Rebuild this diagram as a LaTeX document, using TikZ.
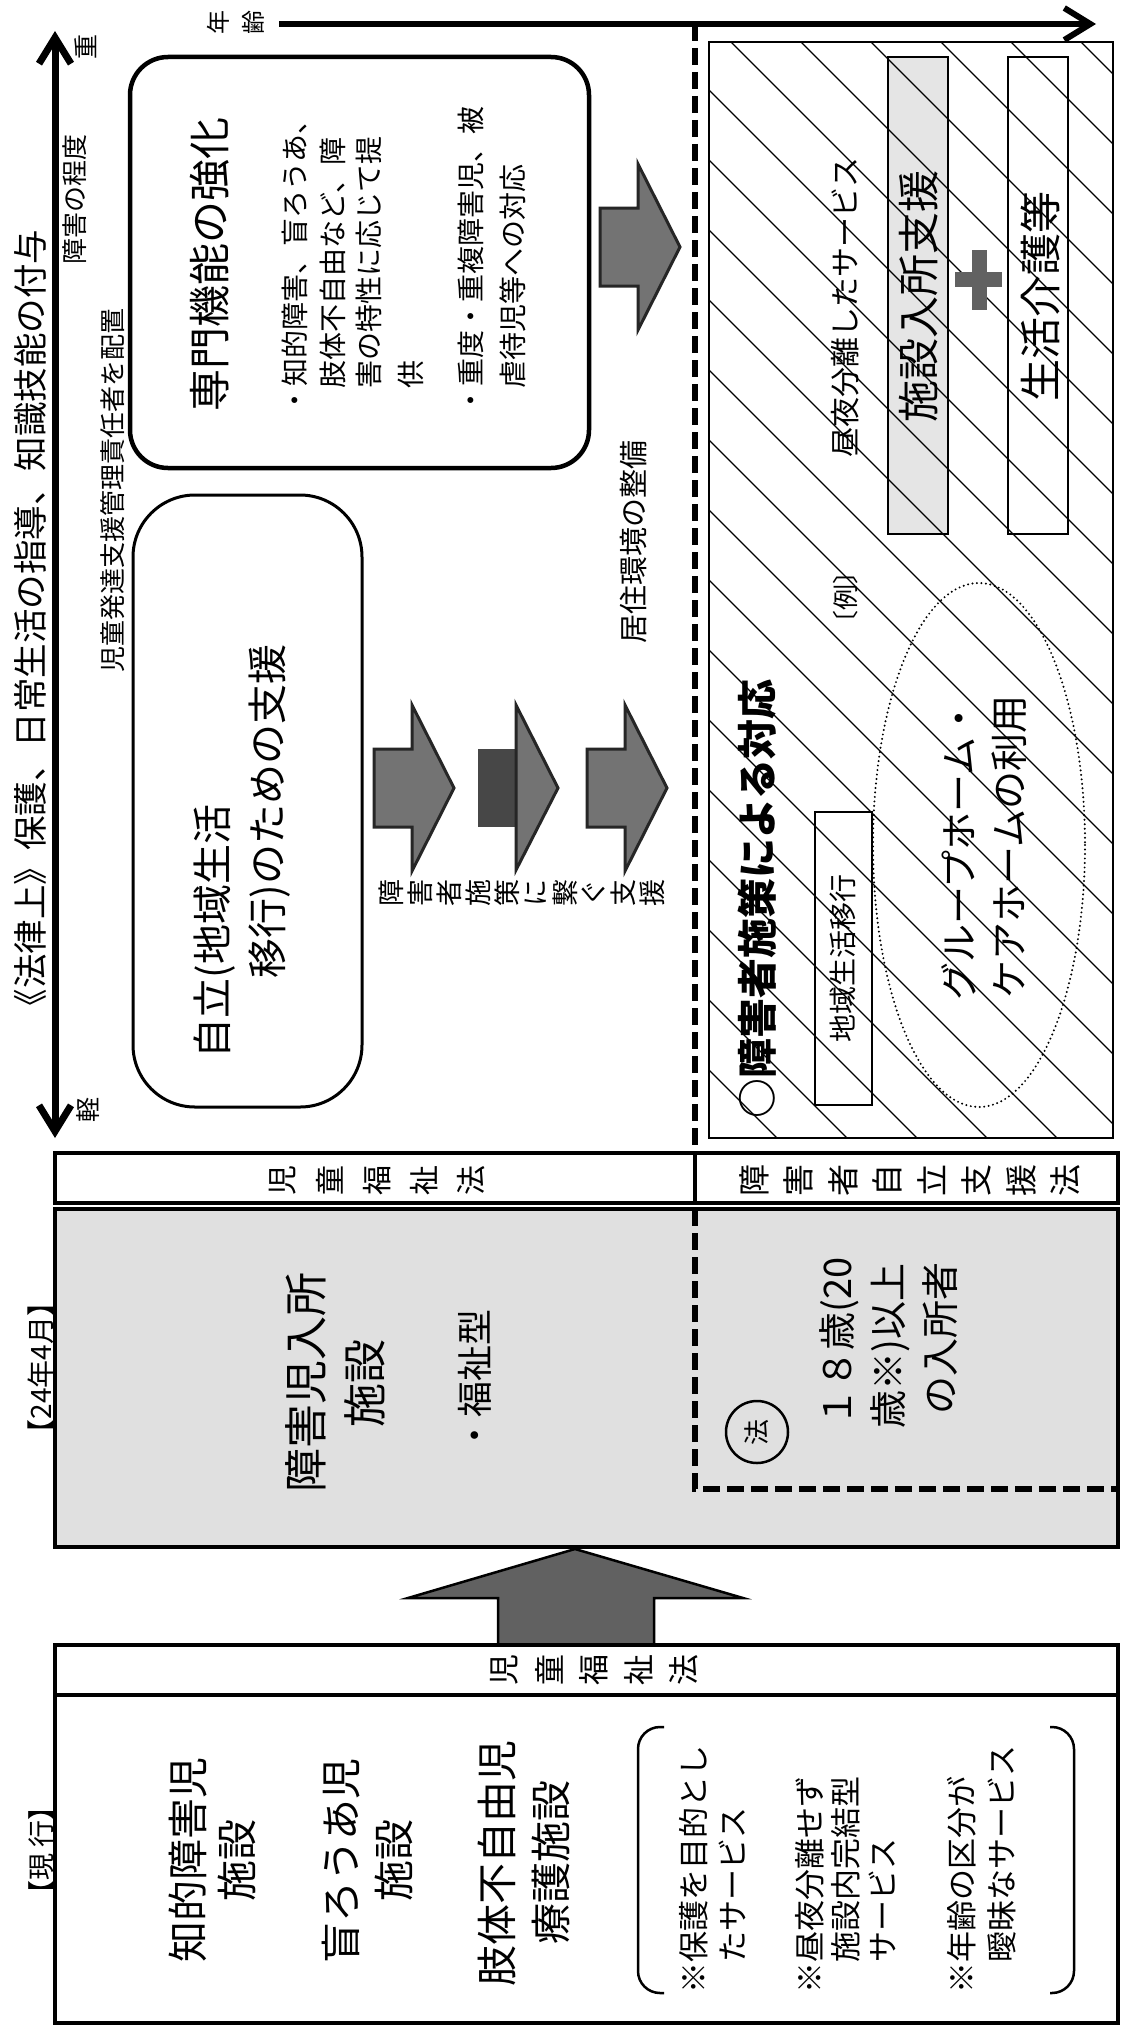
\documentclass[tikz,border=0pt]{standalone}
\usepackage{fontspec}
\setmainfont{Noto Sans CJK JP}
\usetikzlibrary{arrows.meta}
\newcommand{\charrow}[5]{%
  \foreach \chx [count=\ci from 0] in {#5} {%
    \node[vt,font=\fontsize{#4}{#4}\selectfont] at ({#1+\ci*#3},#2) {\chx};}}
\newcommand{\blockarr}[2]{%
  \draw[arrowfill] (#1,#2-39) -- (#1+38,#2-39) -- (#1+38,#2-83) -- (#1+80,#2)
    -- (#1+38,#2+83) -- (#1+38,#2+39) -- (#1,#2+39) -- cycle;}
\begin{document}
\begin{tikzpicture}[x=1pt,y=-1pt,
  vt/.style={rotate=90, inner sep=0pt, outer sep=0pt},
  fs/.style={font=\fontsize{#1}{#1}\selectfont},
  >={Straight Barb[length=26pt,width=32pt]},
  axisline/.style={line width=7pt},
  arrowfill/.style={fill=black!55, draw=black!85, line width=3pt, line join=miter},
  thickdash/.style={line width=6pt, dash pattern=on 17pt off 7pt},
  frame/.style={draw=black, line width=4.5pt},
  thinbox/.style={draw=black, line width=2pt}]
\fill[white] (0,0) rectangle (1128,2028);
\useasboundingbox (0,0) rectangle (1128,2028);

% ---------- axes ----------
\coordinate (dTop) at (55,31);
\coordinate (dBot) at (55,1138);
\draw[axisline,<->] (dBot) -- (dTop);
\coordinate (aL) at (279,24);
\coordinate (aR) at (1096,24);
\draw[line width=6pt,->] (aL) -- (aR);

\node[vt,fs=34.5,anchor=west] (hdr) at (30,1023) {《法律上》保護、日常生活の指導、知識技能の付与};
\node[vt,fs=25] (heavy) at (86,47) {重};
\node[vt,fs=25] (light) at (88,1110) {軽};
\node[vt,fs=26,anchor=west] (deg) at (75,264) {障害の程度};
\charrow{218}{23}{35}{24}{年,齢}
\node[vt,fs=26,anchor=west] (kanri) at (113,672) {児童発達支援管理責任者を配置};

% ---------- senmon box ----------
\draw[line width=4.5pt, rounded corners=38pt] (130,57) rectangle (589,468);
\node[vt,fs=42,anchor=west] (senmon) at (210,411) {専門機能の強化};
\node[vt,fs=28,anchor=west] (b1a) at (295,414) {・知的障害、盲ろうあ、};
\node[vt,fs=28,anchor=west] (b1b) at (333,388) {肢体不自由など、障};
\node[vt,fs=28,anchor=west] (b1c) at (369,388) {害の特性に応じて提};
\node[vt,fs=28,anchor=west] (b1d) at (411,388) {供};
\node[vt,fs=28,anchor=west] (b2a) at (471,414) {・重度・重複障害児、被};
\node[vt,fs=28,anchor=west] (b2b) at (513,388) {虐待児等への対応};

% ---------- jiritsu box ----------
\draw[line width=3pt, rounded corners=62pt] (133,495) rectangle (362,1107);
\node[vt,fs=40,anchor=west] (jr1) at (215,1058) {自立(地域生活};
\node[vt,fs=40,anchor=west] (jr2) at (270,978) {移行)のための支援};

% ---------- block arrows ----------
\blockarr{374}{788}
\fill[black!72] (478,749) rectangle (516,827);
\draw[arrowfill] (516,705) -- (558,788) -- (516,870) -- cycle;
\blockarr{587}{788}
\blockarr{600}{247}
\charrow{391}{893}{29}{27}{障,害,者,施,策,に,繋,ぐ,支,援}
\node[vt,fs=29,anchor=west] (kyoju) at (633,643) {居住環境の整備};

% ---------- hatched box ----------
\fill[black!10] (888,57) rectangle (948,534);
\begin{scope}
  \clip (709,42) rectangle (1113,1138);
  \foreach \j in {-6,...,17} {
    \draw[line width=1.3pt] (689,{20+70*\j-20}) -- (1133,{20+70*\j+424});
  }
\end{scope}
\draw[thinbox] (709,42) rectangle (1113,1138);
\draw[thinbox] (888,57) rectangle (948,534);
\draw[thinbox] (1008,57) rectangle (1068,534);
\node[vt,fs=30] (chuya) at (845,307) {昼夜分離したサービス};
\node[vt,fs=42] (nyusho) at (919,296) {施設入所支援};
\node[vt,fs=42] (seikatsu) at (1040,296) {生活介護等};
\fill[black!62] (972,250) rectangle (987,310);
\fill[black!62] (955,272) rectangle (1002,287);
\node[vt,anchor=west,font=\fontsize{40}{40}\selectfont\bfseries] (taiou) at (757,1118) {○障害者施策による対応};
\draw[thinbox] (815,812) rectangle (872,1105);
\node[vt,fs=28] (chiiki) at (843,958) {地域生活移行};
\node[vt,fs=26] (rei) at (846,597) {〔例〕};
\draw[line width=2.2pt, line cap=round, dash pattern=on 0pt off 4.5pt] (979,845) ellipse [x radius=106, y radius=262];
\node[vt,fs=38,anchor=west] (gh1) at (959,1000) {グループホーム・};
\node[vt,fs=38,anchor=west] (gh2) at (1009,998) {ケアホームの利用};

% ---------- 24nen 4gatsu ----------
\draw[frame, fill=white] (55,1153) rectangle (1118,1203);
\draw[frame] (695,1153) -- (695,1203);
\draw[frame, fill=black!12] (55,1209) rectangle (1118,1547);
\charrow{283}{1180}{47}{30}{児,童,福,祉,法}
\charrow{754}{1180}{44.5}{32}{障,害,者,自,立,支,援,法}
\node[vt,fs=44] (ga) at (306,1382) {障害児入所};
\node[vt,fs=44] (gb) at (365,1383) {施設};
\node[vt,fs=36] (gc) at (475,1381) {・福祉型};
\node[vt,fs=28] (y24) at (41,1368) {【24年4月】};
\node[circle, draw, line width=2.5pt, minimum size=62pt, inner sep=0pt, rotate=90, fs=26] (hou) at (757,1432) {法};
\node[vt,fs=38] (t18a) at (839,1342) {１８歳(20};
\node[vt,fs=38] (t18b) at (890,1346) {歳※)以上};
\node[vt,fs=38] (t18c) at (940,1338) {の入所者};

% ---------- dashed divider ----------
\draw[thickdash] (695,24) -- (695,1153);
\draw[thickdash] (695,1209) -- (695,1489) -- (1118,1489);

% ---------- big arrow ----------
\draw[fill=black!62, draw=black, line width=2.5pt, line join=miter]
  (498,1645) -- (498,1598) -- (408,1598) -- (575,1549) -- (743,1598) -- (654,1598) -- (654,1645) -- cycle;

% ---------- genko box ----------
\draw[frame, fill=white] (55,1645) rectangle (1118,2023);
\draw[frame] (55,1695) -- (1118,1695);
\charrow{504}{1670}{45}{31}{児,童,福,祉,法}
\node[vt,fs=27] (genko) at (41,1850) {【現 行】};
\node[vt,fs=41] (g1a) at (188,1860) {知的障害児};
\node[vt,fs=41] (g1b) at (237,1860) {施設};
\node[vt,fs=41] (g2a) at (341,1861) {盲ろうあ児};
\node[vt,fs=41] (g2b) at (394,1860) {施設};
\node[vt,fs=41] (g3a) at (497,1863) {肢体不自由児};
\node[vt,fs=41] (g3b) at (551,1862) {療護施設};
\draw[line width=2.5pt, rounded corners=22pt] (664,1727) -- (638,1727) -- (638,1993) -- (664,1993);
\draw[line width=2.5pt, rounded corners=22pt] (1050,1727) -- (1074,1727) -- (1074,1993) -- (1050,1993);
\node[vt,fs=31,anchor=west] (n1a) at (694,1993) {※保護を目的とし};
\node[vt,fs=31,anchor=west] (n1b) at (732,1962) {たサービス};
\node[vt,fs=31,anchor=west] (n2a) at (810,1993) {※昼夜分離せず};
\node[vt,fs=31,anchor=west] (n2b) at (846,1962) {施設内完結型};
\node[vt,fs=31,anchor=west] (n2c) at (882,1962) {サービス};
\node[vt,fs=31,anchor=west] (n3a) at (962,1993) {※年齢の区分が};
\node[vt,fs=31,anchor=west] (n3b) at (1002,1962) {曖昧なサービス};
\end{tikzpicture}
\end{document}
